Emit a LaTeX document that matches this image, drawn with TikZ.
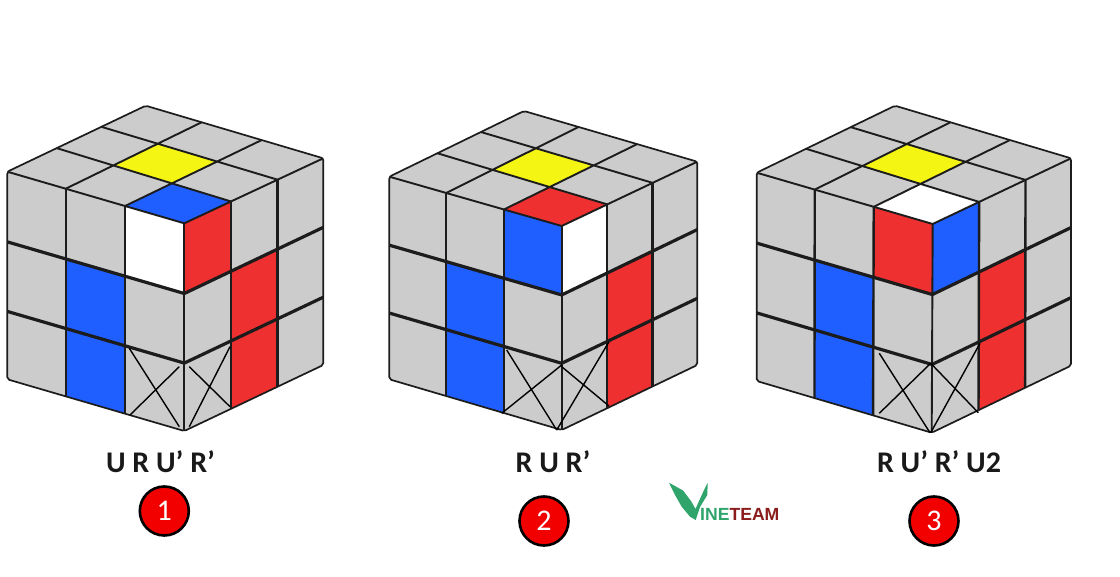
\documentclass[tikz,border=0pt]{standalone}
\usepackage{fontspec}
\setmainfont{Carlito}
\newfontfamily\logofont{Liberation Sans}
\usetikzlibrary{calc}
\definecolor{sgrey}{HTML}{CCCCCC}
\definecolor{sblue}{HTML}{1F5FFF}
\definecolor{sred}{HTML}{EE3030}
\definecolor{syellow}{HTML}{F5F514}
\definecolor{sline}{HTML}{1C1C1C}
\definecolor{wgreen}{HTML}{2FA56C}
\definecolor{tred}{HTML}{8A1C1C}
\tikzset{
  hull/.style={fill=sgrey,draw=none,rounded corners=2pt},
  outline/.style={draw=sline,line width=1.7pt,rounded corners=2pt,line join=round},
  topline/.style={draw=sline,line width=1.9pt},
  rowline/.style={draw=sline,line width=3.2pt},
  colline/.style={draw=sline,line width=2.4pt},
  xmark/.style={draw=black,line width=1.4pt},
  movetext/.style={font=\fontsize{30}{30}\selectfont\bfseries,text=black!90,inner sep=0pt},
  badge/.style={circle,fill=red!95!black,draw=black,line width=2.6pt,minimum size=49pt,inner sep=0pt,text=white,font=\fontsize{30}{30}\selectfont},
}
% expects coordinates T L C R LB B RB; args: top, left and right colours of the front corner
\newcommand{\rubik}[3]{
  \fill[hull] (T)--(R)--(RB)--(B)--(LB)--(L)--cycle;
  \foreach \i/\f in {0/0,1/.33,2/.665,3/1}{
    \foreach \j/\g in {0/0,1/.338,2/.673,3/1}{
      \coordinate (l\i\j) at ($ ($(L)!\f!(C)$)!\g!($(LB)!\f!(B)$) $);
    }
  }
  \foreach \i/\f in {0/0,1/.336,2/.671,3/1}{
    \foreach \j/\g in {0/0,1/.334,2/.672,3/1}{
      \coordinate (r\i\j) at ($ ($(C)!\f!(R)$)!\g!($(B)!\f!(RB)$) $);
    }
  }
  \coordinate (a1) at ($(L)!.33!(C)$);   \coordinate (a1b) at ($(T)!.315!(R)$);
  \coordinate (a2) at ($(L)!.665!(C)$);  \coordinate (a2b) at ($(T)!.653!(R)$);
  \coordinate (b1) at ($(L)!.357!(T)$);  \coordinate (b1b) at ($(C)!.336!(R)$);
  \coordinate (b2) at ($(L)!.68!(T)$);   \coordinate (b2b) at ($(C)!.671!(R)$);
  \coordinate (p11) at (intersection of a1--a1b and b1--b1b);
  \coordinate (p12) at (intersection of a1--a1b and b2--b2b);
  \coordinate (p21) at (intersection of a2--a2b and b1--b1b);
  \coordinate (p22) at (intersection of a2--a2b and b2--b2b);
  \fill[syellow] (p11)--(p12)--(p22)--(p21)--cycle;
  \fill[#1] (C)--(a2)--(p21)--(b1b)--cycle;
  \fill[#2] (l20)--(l30)--(l31)--(l21)--cycle;
  \fill[#3] (r00)--(r10)--(r11)--(r01)--cycle;
  \fill[sblue] (l11)--(l21)--(l23)--(l13)--cycle;
  \fill[sred] (r11)--(r21)--(r23)--(r13)--cycle;
  \draw[topline] (a1)--(a1b) (a2)--(a2b) (b1)--(b1b) (b2)--(b2b);
  \draw[topline] (L)--(C)--(R);
  \draw[colline] (l10)--(l13) (l20)--(l23) (r10)--(r13) (r20)--(r23);
  \draw[topline] (C)--(B);
  \draw[rowline] (l01)--(l31)--(r31) (l02)--(l32)--(r32);
  \draw[outline] (T)--(R)--(RB)--(B)--(LB)--(L)--cycle;
}
\begin{document}
\begin{tikzpicture}[x=1pt,y=-1pt]
\useasboundingbox[fill=white] (0,0) rectangle (1120,577);

% cube 1
\coordinate (T) at (145.7,105.7); \coordinate (L) at (7.3,171.7); \coordinate (C) at (184.3,223.3);
\coordinate (R) at (323.3,158.3); \coordinate (LB) at (7.3,379.3); \coordinate (B) at (184.3,431);
\coordinate (RB) at (323.3,365);
\rubik{sblue}{white}{sred}
\draw[xmark] (129.3,348.3)--(179.3,426.7) (130,415)--(179.3,366.7)
             (189.3,366.7)--(230,406.7) (189.3,426.7)--(230,346.7);

% cube 2
\coordinate (T) at (524,111); \coordinate (L) at (389.3,176.7); \coordinate (C) at (561.7,226);
\coordinate (R) at (697.3,161.7); \coordinate (LB) at (389.3,379.3); \coordinate (B) at (561.7,430);
\coordinate (RB) at (697.3,365);
\rubik{sred}{sblue}{white}
\draw[xmark] (506.7,350)--(556.7,430) (501.7,413.3)--(561.7,365)
             (561.7,366.7)--(609,406) (556.7,430)--(609,341.7);

% cube 3
\coordinate (T) at (895,105.7); \coordinate (L) at (756.7,172.7); \coordinate (C) at (932.7,224);
\coordinate (R) at (1071,158.3); \coordinate (LB) at (756.7,381); \coordinate (B) at (931.7,432.7);
\coordinate (RB) at (1071,365.7);
\rubik{white}{sred}{sblue}
\draw[xmark] (879.3,353.3)--(930,432.7) (879.3,413.3)--(930.7,363.3)
             (930.7,363.3)--(978.3,412.7) (930.7,432.7)--(980,343.3);

% labels
\node[movetext] (m1) at (160.5,461.5) {U R U’ R’};
\node[movetext] (m2) at (553,461.5) {R U R’};
\node[movetext] (m3) at (939,461.5) {R U’ R’ U2};
\node[badge] (n1) at (164.3,511) {1};
\node[badge] (n2) at (544,521) {2};
\node[badge] (n3) at (934,521) {3};

% logo
\fill[wgreen] (669,482.7)--(683,490.5)--(691,501)--(695.5,509)--(704,490)--(707.7,482.7)
  --(707.3,495)--(700,507)--(695.7,520)--(690,516.7)--(681.7,506.7)--(675,495)--cycle;
\node[anchor=base west,inner sep=0pt,font=\logofont\bfseries\fontsize{17.6}{17.6}\selectfont] (logo) at (700,520)
  {\textcolor{wgreen}{INE}\textcolor{tred}{TEAM}};
\end{tikzpicture}
\end{document}
